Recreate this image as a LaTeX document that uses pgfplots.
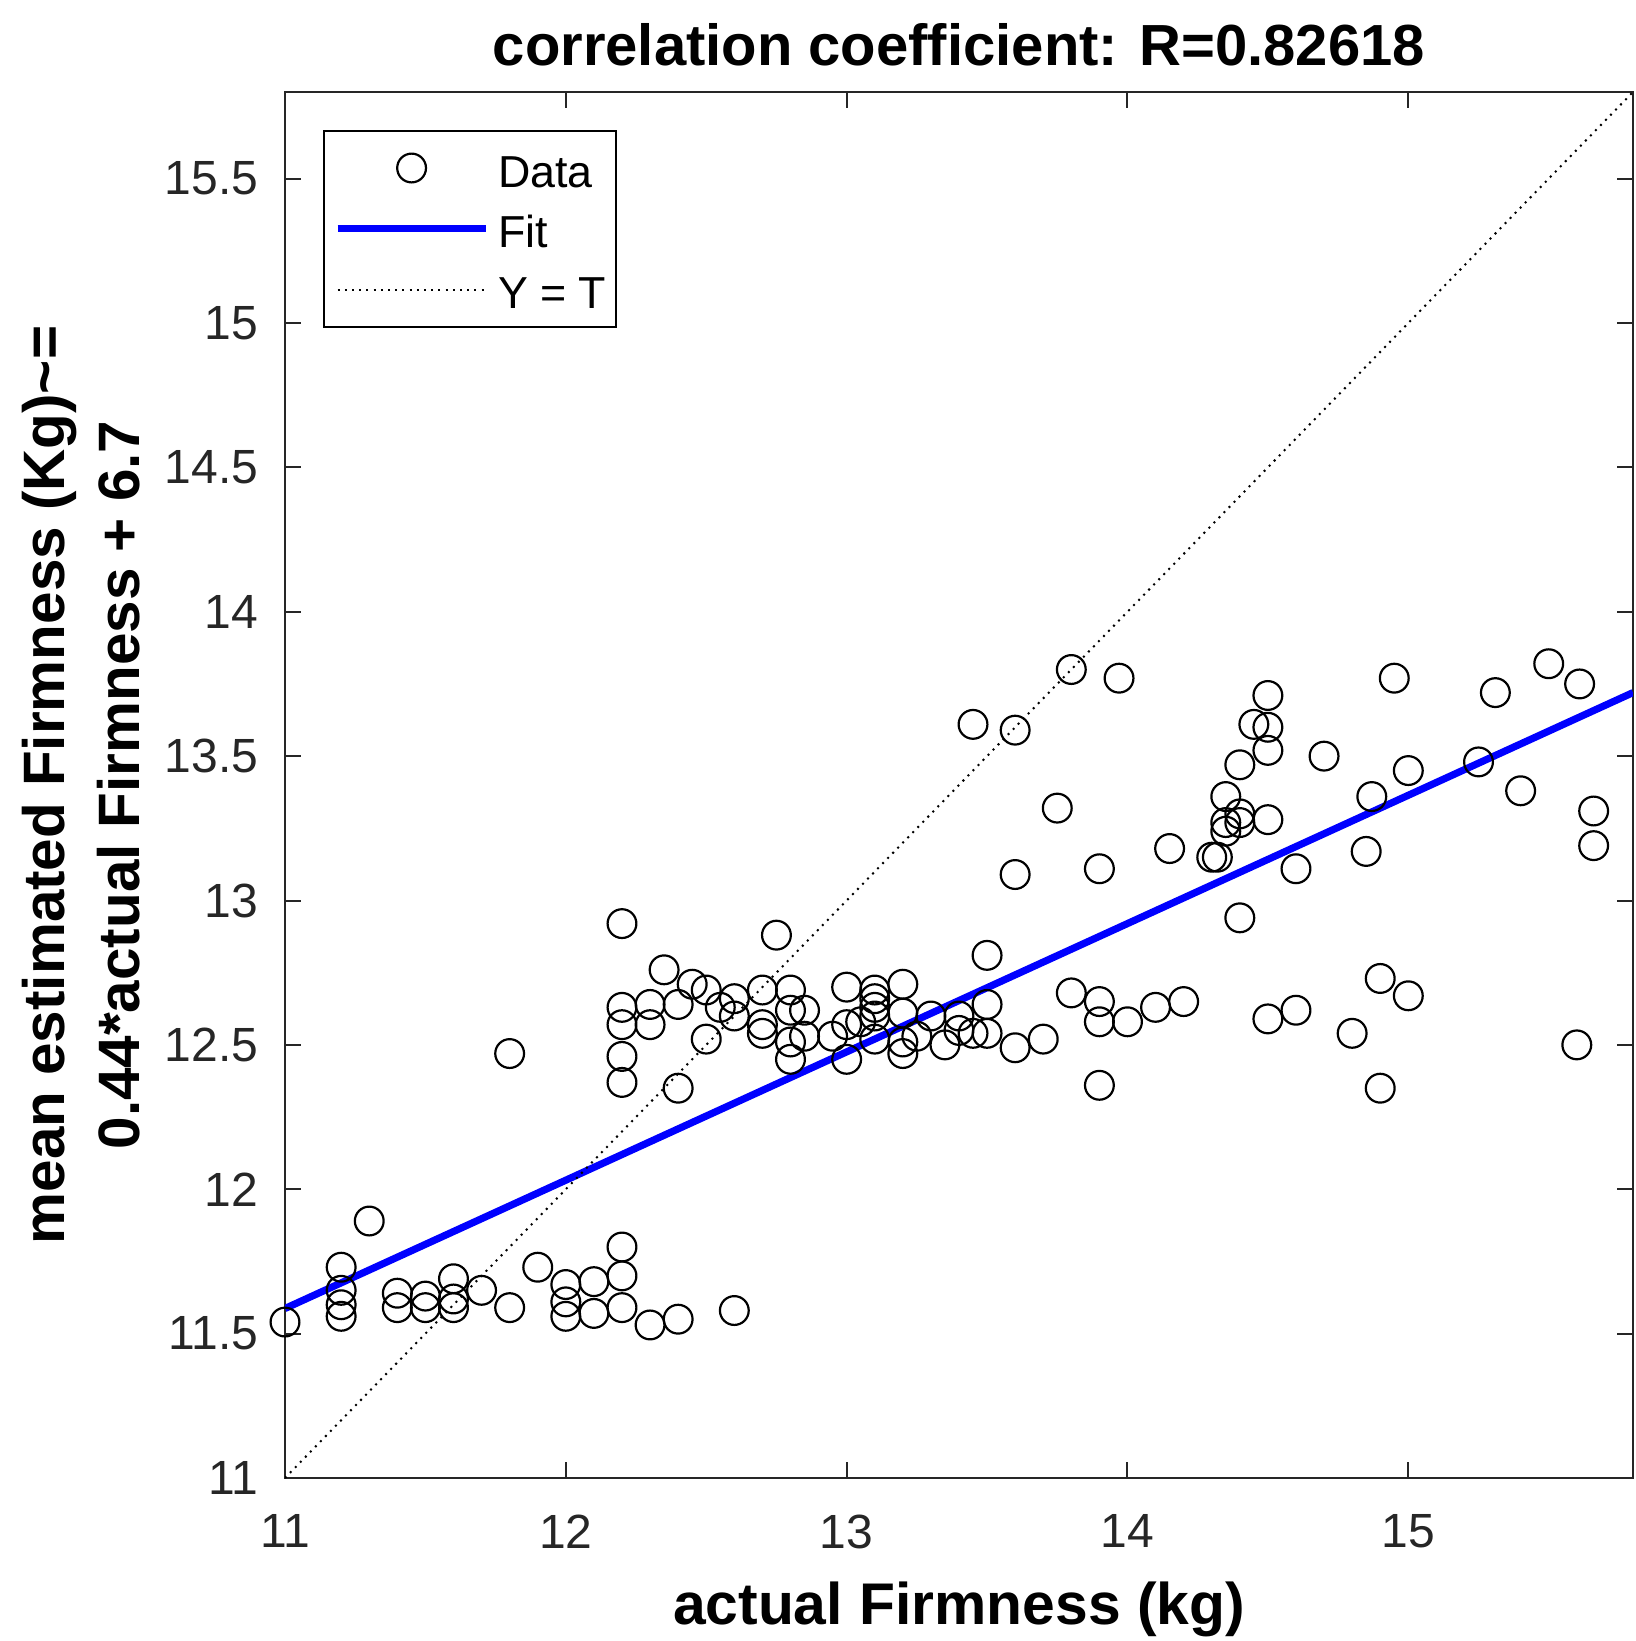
\documentclass[border=0pt]{standalone}
\usepackage{pgfplots}
\pgfplotsset{compat=1.18}
\usepackage{fontspec}
\setmainfont{Liberation Sans}
\pgfplotsset{
  lineleg/.style={legend image code/.code={\draw[##1] (0pt,0pt) -- (37pt,0pt);}},
  markleg/.style={legend image code/.code={\draw[mark repeat=2,mark phase=2,##1] plot coordinates {(0pt,0pt) (18.5pt,0pt) (37pt,0pt)};}},
}
\begin{document}
\begin{tikzpicture}
\begin{axis}[
  scale only axis,
  width=337pt, height=346.5pt,
  xmin=11, xmax=15.8, ymin=11, ymax=15.8,
  xtick={11,12,13,14,15},
  ytick={11,11.5,12,12.5,13,13.5,14,14.5,15,15.5},
  yticklabels={11,11.5,12,12.5,13,13.5,14,14.5,15,15.5},
  xticklabels={11,12,13,14,15},
  tick align=inside,
  major tick length=4pt,
  axis line style={line width=0.5pt, black!85},
  every tick/.style={line width=0.5pt, black!85},
  /pgf/number format/assume math mode=true,
  tick label style={font=\fontsize{12}{14}\selectfont, text=black!85, inner sep=0pt},
  yticklabel style={xshift=-6.5pt},
  xticklabel style={yshift=-9pt},
  title={correlation coefficient: R=0.82618},
  title style={at={(axis description cs:0.5,1.0016)}, anchor=base, inner sep=0pt,
    font=\fontsize{14.5}{17}\bfseries\selectfont},
  xlabel={actual Firmness (kg)},
  xlabel style={at={(axis description cs:0.5,-0.106)}, anchor=base, inner sep=0pt,
    font=\fontsize{14.7}{17}\bfseries\selectfont},
  ylabel={mean estimated Firmness (Kg)\textasciitilde=\\0.44*actual Firmness + 6.7},
  ylabel style={at={(axis description cs:-0.107,0.5)}, anchor=south, inner sep=0pt,
    align=center, font=\fontsize{14.6}{18.8}\bfseries\selectfont},
  legend style={at={(axis description cs:0.0282,0.9726)}, anchor=north west,
    draw=black, line width=0.5pt, fill=white,
    font=\fontsize{11.2}{13}\selectfont,
    inner xsep=2.5pt, inner ysep=4.5pt,
    nodes={inner sep=0pt, text height=9.5pt, text depth=0pt},
    row sep=5.7pt, column sep=2.2pt},
  legend cell align=left,
  clip=true,
]
\addplot[only marks, mark=o, mark size=3.6pt, mark options={line width=0.55pt, black}, markleg]
  table {
x y
11.0 11.54
11.2 11.73
11.2 11.65
11.2 11.60
11.2 11.56
11.3 11.89
11.4 11.64
11.4 11.59
11.5 11.63
11.5 11.59
11.6 11.69
11.6 11.62
11.6 11.59
11.7 11.65
11.8 12.47
11.8 11.59
11.9 11.73
12.0 11.67
12.0 11.61
12.0 11.56
12.1 11.68
12.1 11.57
12.2 11.80
12.2 11.70
12.2 11.59
12.3 11.53
12.4 11.55
12.6 11.58
12.2 12.92
12.2 12.63
12.2 12.57
12.2 12.46
12.2 12.37
12.3 12.64
12.3 12.57
12.35 12.76
12.4 12.64
12.4 12.35
12.45 12.71
12.5 12.69
12.5 12.52
12.55 12.63
12.6 12.66
12.6 12.60
12.7 12.69
12.7 12.57
12.7 12.54
12.75 12.88
12.8 12.69
12.8 12.62
12.8 12.51
12.8 12.45
12.85 12.62
12.85 12.53
12.95 12.53
13.0 12.70
13.0 12.57
13.0 12.45
13.05 12.58
13.1 12.69
13.1 12.66
13.1 12.63
13.1 12.60
13.1 12.52
13.2 12.71
13.2 12.61
13.2 12.51
13.2 12.47
13.25 12.53
13.3 12.60
13.35 12.50
13.4 12.60
13.4 12.55
13.45 13.61
13.45 12.54
13.5 12.81
13.5 12.64
13.5 12.54
13.6 13.59
13.6 13.09
13.6 12.49
13.7 12.52
13.75 13.32
13.8 13.80
13.8 12.68
13.9 13.11
13.9 12.65
13.9 12.58
13.9 12.36
13.97 13.77
14.0 12.58
14.1 12.63
14.15 13.18
14.2 12.65
14.3 13.15
14.32 13.15
14.35 13.36
14.35 13.27
14.35 13.24
14.4 13.47
14.4 13.30
14.4 13.27
14.4 12.94
14.45 13.61
14.5 13.71
14.5 13.60
14.5 13.52
14.5 13.28
14.5 12.59
14.6 13.11
14.6 12.62
14.7 13.50
14.8 12.54
14.85 13.17
14.87 13.36
14.9 12.73
14.9 12.35
14.95 13.77
15.0 13.45
15.0 12.67
15.25 13.48
15.31 13.72
15.4 13.38
15.5 13.82
15.6 12.50
15.61 13.75
15.66 13.31
15.66 13.19
};
\addlegendentry{Data}
\addplot[blue, line width=1.8pt, lineleg] coordinates {(11,11.587) (15.8,13.72)};
\addlegendentry{Fit}
\addplot[black, line width=0.5pt, dash pattern=on 0.5pt off 1.3pt, lineleg] coordinates {(11,11) (15.8,15.8)};
\addlegendentry{Y = T}
\end{axis}
\pgfresetboundingbox
\path[use as bounding box] (-71.25pt,-40.75pt) rectangle (337.75pt,369.5pt);
\end{tikzpicture}
\end{document}
